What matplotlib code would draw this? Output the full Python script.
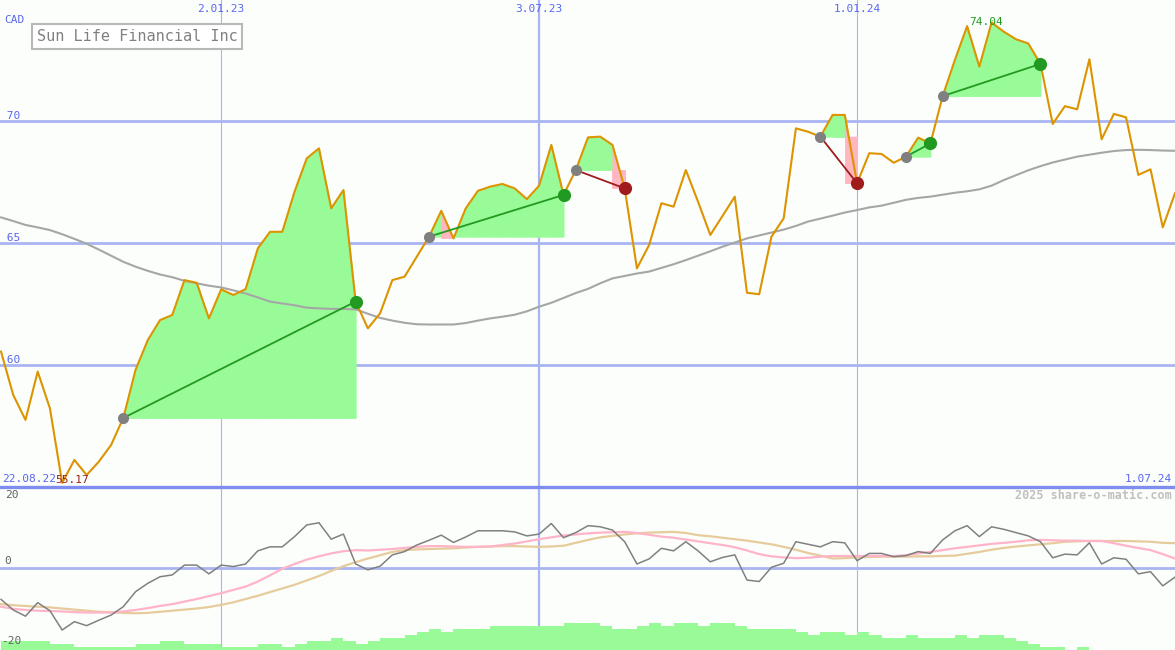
import numpy as np
import pandas as pd
import matplotlib
matplotlib.use('Agg')
import matplotlib.pyplot as plt
import matplotlib.transforms as mtransforms

# weekly closes, 29.08.22 .. 1.07.24
first_week = '2022-08-29'
price = [60.55, 58.77, 57.75, 59.73, 58.22, 55.17, 56.11, 55.49, 56.04, 56.72,
         57.83, 59.80, 61.02, 61.84, 62.05, 63.48, 63.37, 61.91, 63.10, 62.87,
         63.11, 64.78, 65.46, 65.46, 67.10, 68.47, 68.88, 66.42, 67.17, 62.60,
         61.50, 62.12, 63.48, 63.62, 64.44, 65.26, 66.32, 65.19, 66.42, 67.14,
         67.31, 67.42, 67.24, 66.80, 67.35, 69.02, 66.97, 67.99, 69.33, 69.36,
         69.02, 67.24, 63.96, 64.92, 66.63, 66.49, 67.99, 66.69, 65.33, 66.11,
         66.90, 62.96, 62.90, 65.26, 66.01, 69.70, 69.56, 69.36, 70.25, 70.25,
         67.45, 68.68, 68.65, 68.29, 68.54, 69.32, 69.08, 71.02, 72.50, 73.89,
         72.23, 74.04, 73.66, 73.35, 73.18, 72.34, 69.88, 70.61, 70.48, 72.53,
         69.25, 70.29, 70.15, 67.79, 68.02, 65.64, 67.04]

avg_line = [66.05, 65.90, 65.74, 65.64, 65.53, 65.36, 65.17, 64.97, 64.73, 64.48,
            64.23, 64.03, 63.86, 63.71, 63.60, 63.45, 63.35, 63.25, 63.18, 63.06,
            62.93, 62.77, 62.60, 62.52, 62.45, 62.35, 62.32, 62.30, 62.30, 62.28,
            62.10, 61.93, 61.82, 61.73, 61.67, 61.66, 61.66, 61.66, 61.72, 61.82,
            61.91, 61.98, 62.06, 62.20, 62.39, 62.55, 62.75, 62.95, 63.12, 63.35,
            63.55, 63.65, 63.75, 63.83, 63.98, 64.13, 64.30, 64.48, 64.66, 64.85,
            65.02, 65.19, 65.31, 65.43, 65.55, 65.70, 65.88, 66.00, 66.12, 66.25,
            66.35, 66.46, 66.53, 66.65, 66.77, 66.85, 66.90, 66.98, 67.06, 67.12,
            67.20, 67.35, 67.58, 67.78, 67.98, 68.15, 68.30, 68.42, 68.54, 68.62,
            68.70, 68.77, 68.81, 68.82, 68.81, 68.79, 68.78]

momentum = [-8.6, -11.5, -13.2, -9.5, -11.7, -17.0, -14.7, -15.8, -14.3, -12.9,
            -10.6, -6.5, -4.2, -2.4, -1.9, 0.8, 0.8, -1.6, 0.8, 0.4,
            1.1, 4.7, 5.8, 5.8, 8.6, 11.8, 12.4, 7.9, 9.3, 1.1,
            -0.5, 0.5, 3.6, 4.5, 6.3, 7.6, 9.0, 7.0, 8.5, 10.2,
            10.2, 10.2, 9.9, 8.8, 9.3, 12.2, 8.3, 9.7, 11.6, 11.3,
            10.4, 7.2, 1.1, 2.5, 5.4, 4.7, 7.2, 4.7, 1.7, 2.9,
            3.6, -3.3, -3.7, 0.2, 1.3, 7.2, 6.5, 5.8, 7.2, 6.9,
            2.0, 4.0, 4.0, 3.1, 3.4, 4.5, 4.0, 7.7, 10.2, 11.6,
            8.6, 11.3, 10.6, 9.7, 8.8, 7.2, 2.8, 3.8, 3.6, 6.9,
            1.1, 2.8, 2.4, -1.6, -1.0, -4.9, -2.5]

signal_fast = [-10.6, -11.2, -11.5, -11.7, -11.8, -11.9, -12.1, -12.2, -12.2, -12.2,
               -11.9, -11.5, -11.0, -10.4, -9.9, -9.2, -8.5, -7.7, -6.9, -6.0,
               -5.1, -3.7, -2.0, -0.2, 1.1, 2.3, 3.2, 4.0, 4.6, 4.9,
               4.8, 5.0, 5.2, 5.5, 5.8, 6.0, 6.0, 5.9, 5.8, 5.8,
               5.9, 6.3, 6.7, 7.3, 7.9, 8.4, 8.9, 9.2, 9.5, 9.7,
               9.8, 9.9, 9.6, 9.1, 8.6, 8.3, 7.8, 7.3, 6.8, 6.3,
               5.7, 4.8, 3.8, 3.2, 2.9, 2.7, 2.8, 3.1, 3.3, 3.3,
               3.3, 3.3, 3.3, 3.3, 3.5, 4.0, 4.4, 4.9, 5.4, 5.8,
               6.2, 6.6, 6.9, 7.2, 7.6, 7.7, 7.6, 7.5, 7.5, 7.4,
               7.4, 6.8, 6.1, 5.5, 4.9, 3.8, 2.6]

signal_slow = [-9.9, -10.2, -10.4, -10.6, -10.8, -11.1, -11.4, -11.7, -12.0, -12.1,
               -12.3, -12.4, -12.3, -12.0, -11.7, -11.4, -11.1, -10.7, -10.1, -9.4,
               -8.5, -7.6, -6.6, -5.6, -4.6, -3.4, -2.2, -0.8, 0.5, 1.6,
               2.6, 3.5, 4.4, 4.9, 5.1, 5.2, 5.3, 5.4, 5.6, 5.8,
               5.9, 6.0, 6.0, 5.9, 5.8, 5.9, 6.1, 6.9, 7.7, 8.4,
               8.8, 9.2, 9.5, 9.7, 9.8, 9.9, 9.6, 9.0, 8.7, 8.3,
               7.9, 7.5, 7.0, 6.5, 5.8, 5.0, 4.1, 3.4, 2.6, 2.7,
               2.9, 3.0, 3.1, 3.1, 3.1, 3.2, 3.2, 3.3, 3.4, 3.9,
               4.4, 5.0, 5.5, 5.9, 6.2, 6.5, 6.8, 7.2, 7.3, 7.4,
               7.4, 7.4, 7.4, 7.3, 7.2, 6.9, 6.8]

volume = [3, 3, 3, 3, 2, 2, 1, 1, 1, 1,
          1, 2, 2, 3, 3, 2, 2, 2, 1, 1,
          1, 2, 2, 1, 2, 3, 3, 4, 3, 2,
          3, 4, 4, 5, 6, 7, 6, 7, 7, 7,
          8, 8, 8, 8, 8, 8, 9, 9, 9, 8,
          7, 7, 8, 9, 8, 9, 9, 8, 9, 9,
          8, 7, 7, 7, 7, 6, 5, 6, 6, 5,
          6, 5, 4, 4, 5, 4, 4, 4, 5, 4,
          5, 5, 4, 3, 2, 1, 1, 0, 1, 0,
          0, 0, 0, 0, 0, 0, 0]

# (entry, exit) weeks of the signals
trades = [('2022-11-07', '2023-03-20'), ('2023-05-01', '2023-07-17'),
          ('2023-07-24', '2023-08-21'), ('2023-12-11', '2024-01-01'),
          ('2024-01-29', '2024-02-12'), ('2024-02-19', '2024-04-15')]

date_marks = ['2023-01-02', '2023-07-03', '2024-01-01']
date_labels = ['2.01.23', '3.07.23', '1.01.24']

dates = pd.date_range(first_week, periods=len(price), freq='7D')
price = np.array(price)

BG = '#fcfefc'
GRID = '#a9b5f2'
BLUE_TXT = '#5a66f0'
GREEN_FILL = '#98fb98'
PINK_FILL = '#ffb6c1'
MONO = 'DejaVu Sans Mono'

fig = plt.figure(figsize=(11.75, 6.5), dpi=100, facecolor=BG)
ax_vol = fig.add_axes([0, 0, 1, 163 / 650])
ax_low = fig.add_axes([0, 0, 1, 163 / 650], sharex=ax_vol)
ax = fig.add_axes([0, 163 / 650, 1, 487 / 650], sharex=ax_vol)
ax_low.set_zorder(3)
ax.set_zorder(4)
for a in (ax, ax_vol, ax_low):
    a.patch.set_visible(False)
    for s in a.spines.values():
        s.set_visible(False)
    a.tick_params(left=False, bottom=False, labelleft=False, labelbottom=False)

x_left = dates[0] - pd.Timedelta(hours=14)
x_right = pd.Timestamp('2024-07-01')
ax.set_xlim(x_left, x_right)
ax.set_ylim(55.0, 74.96)
ax_low.set_ylim(-22.47, 22.2)
ax_vol.set_ylim(0, 53.4)

# grid
for lvl in (60, 65, 70):
    ax.axhline(lvl, color=GRID, lw=2.0, zorder=0.5)
    ax.text(x_left, lvl, ' ' + str(lvl), color=BLUE_TXT, fontsize=8,
            family=MONO, va='bottom', ha='left')
ax.axhline(55.0, color='#7f8cf0', lw=2.4, zorder=5, clip_on=False)
tr = mtransforms.blended_transform_factory(ax.transData, ax.transAxes)
for i, (d, lab) in enumerate(zip(date_marks, date_labels)):
    lw = 1.6 if i == 1 else 0.8
    ax.axvline(pd.Timestamp(d), color=GRID, lw=lw, zorder=0.5)
    ax_vol.axvline(pd.Timestamp(d), color=GRID, lw=lw, zorder=0.5)
    ax.text(pd.Timestamp(d), 0.9815, lab, transform=tr, color=BLUE_TXT,
            fontsize=8, family=MONO, ha='center', va='center')

# trades: fills between price and entry level
for ent, ext in trades:
    i0 = dates.get_loc(pd.Timestamp(ent))
    i1 = dates.get_loc(pd.Timestamp(ext))
    base = price[i0]
    for i in range(i0, i1):
        xs = dates[i:i + 2]
        up = price[i + 1] >= base
        col = GREEN_FILL if up else PINK_FILL
        ax.fill_between(xs, price[i:i + 2], base, color=col, ec=col, lw=0.6, zorder=1)
        if not up:
            ax.fill_between(xs, price[i + 1], base, color=PINK_FILL, ec=PINK_FILL,
                            lw=0.6, zorder=1)

ax.plot(dates, avg_line, color='#a6a6a6', lw=1.5, zorder=2)
ax.plot(dates, price, color='#dc9400', lw=1.5, zorder=3)

for ent, ext in trades:
    i0 = dates.get_loc(pd.Timestamp(ent))
    i1 = dates.get_loc(pd.Timestamp(ext))
    win = price[i1] > price[i0]
    lcol = '#229a22' if win else '#a01c1c'
    ax.plot([dates[i0], dates[i1]], [price[i0], price[i1]], color=lcol, lw=1.3, zorder=4)
    ax.plot(dates[i0], price[i0], 'o', color='#808080', ms=8, mec='none', zorder=5)
    ax.plot(dates[i1], price[i1], 'o', color=lcol, ms=9.5, mec='none', zorder=5)

# labels
ax.text(0.004, 0.959, 'CAD', transform=ax.transAxes, color=BLUE_TXT, fontsize=8,
        family=MONO, va='center', ha='left')
ax.text(0.0315, 0.925, 'Sun Life Financial Inc', transform=ax.transAxes,
        color='#808080', fontsize=11, family=MONO, va='center', ha='left',
        bbox=dict(boxstyle='square,pad=0.3', fc='white', ec='#b8b8b8', lw=1.5), zorder=6)
ax.text(0.002, 0.0164, '22.08.22', transform=ax.transAxes, color=BLUE_TXT,
        fontsize=8, family=MONO, va='center', ha='left')
ax.text(0.9975, 0.0164, '1.07.24', transform=ax.transAxes, color=BLUE_TXT,
        fontsize=8, family=MONO, va='center', ha='right')
imin = int(np.argmin(price))
imax = int(np.argmax(price))
ax.annotate(f'{price[imin]:.2f}', xy=(dates[imin], price[imin]), xytext=(-5, 2),
            textcoords='offset points', color='#a01c1c', fontsize=8,
            family=MONO, ha='left', va='center', zorder=6)
ax.annotate(f'{price[imax]:.2f}', xy=(dates[imax], price[imax]), xytext=(-4, -3),
            textcoords='offset points', color='#229a22', fontsize=8,
            family=MONO, ha='center', va='bottom', zorder=6)

# lower panel
ax_vol.bar(dates, volume, width=7, align='edge', color=GREEN_FILL, lw=0, zorder=2)
ax_low.axhline(0, color=GRID, lw=2.0, zorder=1)
ax_low.plot(dates, signal_slow, color='#e6cc9c', lw=1.6, zorder=2)
ax_low.plot(dates, signal_fast, color='#ffb4c8', lw=1.6, zorder=2)
ax_low.plot(dates, momentum, color='#808080', lw=1.1, zorder=3)
trl = mtransforms.blended_transform_factory(ax_low.transAxes, ax_low.transData)
ax_low.text(0.004, 20, '20', transform=trl, color='#606060', fontsize=8,
            family=MONO, va='center', ha='left')
ax_low.text(0.004, 0.6, '0', transform=trl, color='#606060', fontsize=8,
            family=MONO, va='bottom', ha='left')
ax_low.text(0.001, -20, '-20', transform=trl, color='#606060', fontsize=8,
            family=MONO, va='center', ha='left')
ax_low.text(0.9975, 0.945, '2025 share-o-matic.com', transform=ax_low.transAxes,
            color='#c0c0c0', fontsize=8.5, family=MONO, weight='bold',
            va='center', ha='right')

fig.savefig('out.png', dpi=100, facecolor=BG)
